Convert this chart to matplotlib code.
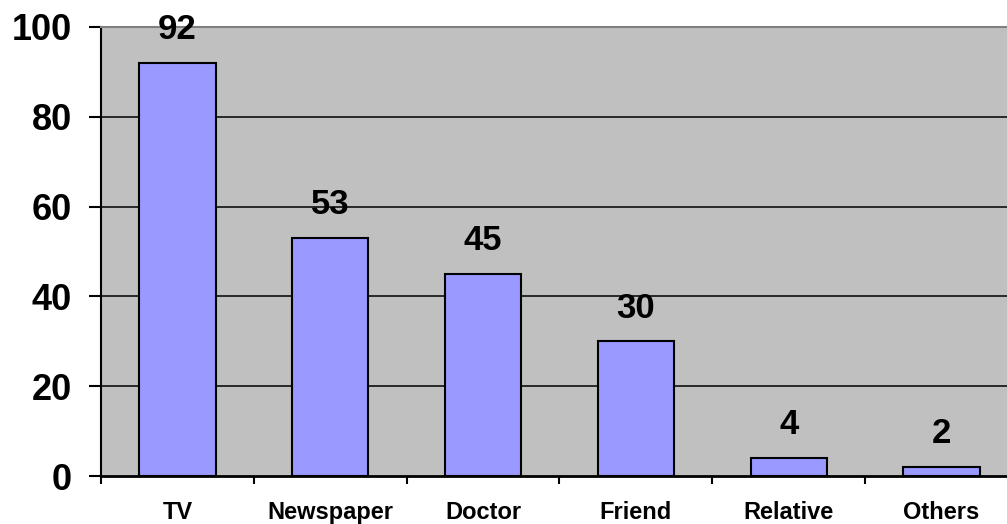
import matplotlib
matplotlib.use("Agg")
import matplotlib.pyplot as plt
import numpy as np

plt.rcParams.update({
    'font.family': ['Liberation Sans', 'DejaVu Sans'],
    'font.weight': 'bold',
})

# Data
categories = ['TV', 'Newspaper', 'Doctor', 'Friend', 'Relative', 'Others']
values = [92, 53, 45, 30, 4, 2]
y_ticks = [0, 20, 40, 60, 80, 100]

bar_color = '#9999FF'
plot_bg = '#C0C0C0'

fig = plt.figure(figsize=(10.07, 5.24), dpi=100)
# axes runs slightly past the right edge of the picture, as in the original
ax = fig.add_axes([101 / 1007, 48 / 524, 917 / 1007, 449 / 524])
ax.set_facecolor(plot_bg)

x = np.arange(len(categories))
ax.bar(x, values, width=0.5, color=bar_color, edgecolor='black', linewidth=1.5, zorder=3)

for xi, v in zip(x, values):
    ax.annotate(f'{v}', (xi, v), textcoords='offset points', xytext=(0, 12),
                ha='center', va='bottom', fontsize=25, fontweight='bold', zorder=4)

ax.set_xlim(-0.5, len(categories) - 0.5)
ax.set_ylim(0, 100)

# y axis
ax.set_yticks(y_ticks)
ax.set_yticklabels([str(t) for t in y_ticks], fontsize=26, fontweight='bold')
ax.tick_params(axis='y', direction='out', length=9, width=1.5, pad=12)
for t in y_ticks[1:-1]:
    ax.axhline(t, color='black', linewidth=1.1, zorder=1)

# x axis: ticks between categories, labels centred under bars
ax.set_xticks(np.arange(len(categories)) - 0.5)
ax.set_xticklabels([])
ax.set_xticks(x, minor=True)
ax.set_xticklabels(categories, minor=True, fontsize=17, fontweight='bold')
ax.tick_params(axis='x', which='major', direction='out', length=6, width=1.5)
ax.tick_params(axis='x', which='minor', length=0, pad=18)

ax.spines['left'].set_linewidth(1.5)
ax.spines['bottom'].set_linewidth(2)
ax.spines['top'].set_color('#808080')
ax.spines['top'].set_linewidth(1.5)
ax.spines['right'].set_visible(False)

fig.savefig('out.png', dpi=100)
